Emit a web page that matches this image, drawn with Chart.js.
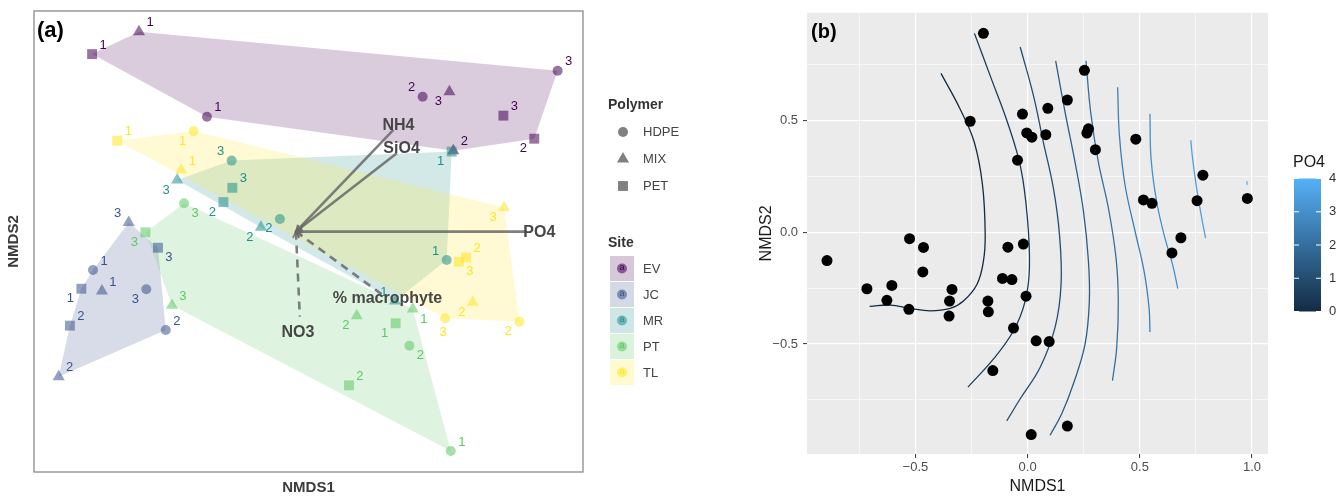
<!DOCTYPE html>
<html>
<head>
<meta charset="utf-8">
<script src="https://cdn.jsdelivr.net/npm/chart.js@4.4.0/dist/chart.umd.min.js"></script>
<style>
  html, body { margin: 0; padding: 0; background: #fff; }
  body { width: 1341px; height: 496px; position: relative; overflow: hidden; }
  #chartA { position: absolute; left: 0; top: 0; }
  #chartB { position: absolute; left: 740px; top: 0; }
</style>
</head>
<body>
<canvas id="chartA" width="720" height="496"></canvas>
<canvas id="chartB" width="601" height="496"></canvas>
<script>
// ---- panel (a): NMDS by site / polymer ----
const sites = ['EV', 'JC', 'MR', 'PT', 'TL'];
const polymers = ['HDPE', 'MIX', 'PET'];
// every site has the same 9 samples, in this order
const samplePolymer = ['HDPE', 'HDPE', 'HDPE', 'MIX', 'MIX', 'MIX', 'PET', 'PET', 'PET'];
const sampleRep = [1, 2, 3, 1, 2, 3, 1, 2, 3];

const evNMDS1 = [-0.444, 0.499, 1.089, -0.741, 0.633, 0.616, -0.946, 0.987, 0.852];
const evNMDS2 = [0.541, 0.628, 0.741, 0.910, 0.394, 0.650, 0.813, 0.446, 0.546];
const jcNMDS1 = [-0.942, -0.624, -0.709, -0.903, -1.092, -0.786, -0.993, -1.043, -0.658];
const jcNMDS2 = [-0.124, -0.384, -0.207, -0.215, -0.587, 0.082, -0.205, -0.365, -0.027];
const mrNMDS1 = [0.604, -0.125, -0.336, 0.378, -0.208, -0.574, 0.626, -0.372, -0.333];
const mrNMDS2 = [-0.080, 0.098, 0.351, -0.258, 0.062, 0.267, 0.390, 0.171, 0.233];
const ptNMDS1 = [0.622, 0.441, -0.544, 0.456, 0.211, -0.597, 0.381, 0.177, -0.713];
const ptNMDS2 = [-0.909, -0.452, 0.166, -0.293, -0.322, -0.277, -0.355, -0.624, 0.040];
const tlNMDS1 = [-0.502, 0.922, 0.597, -0.556, 0.718, 0.855, -0.836, 0.689, 0.657];
const tlNMDS2 = [0.479, -0.348, -0.333, 0.310, -0.264, 0.148, 0.437, -0.069, -0.088];

// environmental vectors (fitted arrows)
const envNames = ['NH4', 'SiO4', 'PO4', 'NO3', '% macrophyte'];
const envNMDS1 = [0.371, 0.386, 0.954, -0.038, 0.334];
const envNMDS2 = [0.484, 0.383, 0.043, -0.326, -0.239];
const envLabelNMDS1 = [0.393, 0.407, 1.009, -0.046, 0.345];
const envLabelNMDS2 = [0.502, 0.404, 0.040, -0.397, -0.249];
const envCentre = [-0.055, 0.043];

// ---- panel (b): ordisurf of PO4 ----
const nmds1B = [-0.197, -0.256, -0.023, -0.004, 0.019, 0.081, 0.090, -0.045, -0.894, -0.526,
  -0.464, -0.467, -0.716, -0.605, -0.627, -0.529, -0.337, -0.348, -0.350, -0.088,
  -0.019, -0.112, -0.070, -0.177, -0.175, -0.007, -0.063, 0.038, 0.096, -0.155,
  0.016, 0.253, 0.177, 0.271, 0.264, 0.302, 0.482, 0.781, 0.516, 0.554,
  0.755, 0.979, 0.683, 0.643, 0.177];
const nmds2B = [0.889, 0.496, 0.528, 0.444, 0.425, 0.436, 0.554, 0.322, -0.127, -0.029,
  -0.068, -0.178, -0.253, -0.238, -0.305, -0.345, -0.256, -0.308, -0.375, -0.067,
  -0.053, -0.207, -0.212, -0.308, -0.356, -0.286, -0.429, -0.486, -0.489, -0.619,
  -0.905, 0.724, 0.591, 0.462, 0.443, 0.369, 0.416, 0.255, 0.144, 0.129,
  0.141, 0.151, -0.025, -0.093, -0.867];

const contourLevels = [0, 0.5, 1, 1.5, 2, 2.5, 3, 3.5, 4];
const contourX = [
  [-0.386, -0.301, -0.238, -0.201, -0.189, -0.197, -0.226, -0.286, -0.345, -0.434, -0.523, -0.612, -0.704],
  [-0.237, -0.167, -0.085, -0.030, -0.001, 0.008, -0.011, -0.063, -0.152, -0.266],
  [-0.033, 0.026, 0.070, 0.115, 0.142, 0.149, 0.122, 0.056, -0.033, -0.093],
  [0.125, 0.167, 0.211, 0.249, 0.271, 0.275, 0.256, 0.204, 0.152, 0.100],
  [0.260, 0.281, 0.315, 0.360, 0.394, 0.404, 0.397, 0.378],
  [0.401, 0.409, 0.434, 0.479, 0.519, 0.541, 0.545],
  [0.545, 0.550, 0.575, 0.612, 0.646, 0.669],
  [0.727, 0.735, 0.753, 0.776, 0.793],
  [0.976, 0.979]
];
const contourY = [
  [0.710, 0.551, 0.403, 0.211, -0.012, -0.130, -0.234, -0.308, -0.341, -0.352, -0.341, -0.326, -0.332],
  [0.889, 0.700, 0.477, 0.284, 0.062, -0.160, -0.308, -0.441, -0.567, -0.693],
  [0.828, 0.611, 0.403, 0.196, -0.012, -0.234, -0.427, -0.604, -0.745, -0.844],
  [0.766, 0.536, 0.314, 0.092, -0.130, -0.308, -0.500, -0.678, -0.812, -0.908],
  [0.766, 0.536, 0.314, 0.107, -0.116, -0.308, -0.516, -0.664],
  [0.648, 0.433, 0.211, 0.003, -0.175, -0.338, -0.446],
  [0.529, 0.329, 0.136, -0.027, -0.145, -0.252],
  [0.411, 0.329, 0.196, 0.062, -0.027],
  [0.228, 0.211]
];
const xTicksB = [-0.75, -0.5, -0.25, 0, 0.25, 0.5, 0.75, 1];
const yTicksB = [-0.75, -0.5, -0.25, 0, 0.25, 0.5, 0.75];
const colorbarTicks = [0, 1, 2, 3, 4];

// ---- styles ----
const FONT = "'Liberation Sans', Arial, Helvetica, sans-serif";
Chart.defaults.font.family = FONT;
const siteColors = ['#440154', '#3B528B', '#21908C', '#5DC863', '#FDE725'];
const polymerStyle = { HDPE: 'circle', MIX: 'triangle', PET: 'rect' };
const polymerRadius = { HDPE: 5, MIX: 7, PET: 7 };
const envDashed = [false, false, false, true, true];
const labelSide = [
  ['ne', 'nw', 'ne', 'ne', 'ne', 'sw', 'ne', 'sw', 'ne'],
  ['ne', 'ne', 'sw', 'ne', 'ne', 'nw', 'sw', 'ne', 'se'],
  ['nw', 'sw', 'nw', 'nw', 'sw', 'sw', 'sw', 'sw', 'ne'],
  ['ne', 'se', 'se', 'se', 'sw', 'ne', 'sw', 'ne', 'sw'],
  ['sw', 'sw', 's', 'ne', 'sw', 'sw', 'ne', 'ne', 'se']
];
const sideOffset = { ne: [11, -9], nw: [-11, -9], se: [11, 10], sw: [-11, 10], s: [-2, 14] };
const lowColor = [0x13, 0x2B, 0x43], highColor = [0x56, 0xB1, 0xF7];

function rgba(hex, a) {
  const n = parseInt(hex.slice(1), 16);
  return `rgba(${n >> 16},${(n >> 8) & 255},${n & 255},${a})`;
}
function levelColor(v) {
  const t = v / 4;
  const c = lowColor.map((l, i) => Math.round(l + (highColor[i] - l) * t));
  return `rgb(${c[0]},${c[1]},${c[2]})`;
}
function convexHull(pts) {
  const p = pts.slice().sort((a, b) => a.x - b.x || a.y - b.y);
  const cross = (o, a, b) => (a.x - o.x) * (b.y - o.y) - (a.y - o.y) * (b.x - o.x);
  const lower = [], upper = [];
  p.forEach(q => { while (lower.length >= 2 && cross(lower[lower.length - 2], lower[lower.length - 1], q) <= 0) lower.pop(); lower.push(q); });
  p.slice().reverse().forEach(q => { while (upper.length >= 2 && cross(upper[upper.length - 2], upper[upper.length - 1], q) <= 0) upper.pop(); upper.push(q); });
  return lower.slice(0, -1).concat(upper.slice(0, -1));
}

const siteX = [evNMDS1, jcNMDS1, mrNMDS1, ptNMDS1, tlNMDS1];
const siteY = [evNMDS2, jcNMDS2, mrNMDS2, ptNMDS2, tlNMDS2];

const panelA = {
  id: 'panelA',
  beforeDatasetsDraw(chart) {
    const { ctx, scales: { x, y } } = chart;
    ctx.save();
    sites.forEach((s, i) => {
      const pts = siteX[i].map((v, j) => ({ x: x.getPixelForValue(v), y: y.getPixelForValue(siteY[i][j]) }));
      const hull = convexHull(pts);
      ctx.beginPath();
      hull.forEach((p, k) => k ? ctx.lineTo(p.x, p.y) : ctx.moveTo(p.x, p.y));
      ctx.closePath();
      ctx.fillStyle = rgba(siteColors[i], 0.2);
      ctx.fill();
    });
    ctx.restore();
  },
  afterDatasetsDraw(chart) {
    const { ctx, scales: { x, y } } = chart;
    ctx.save();
    const ox = x.getPixelForValue(envCentre[0]), oy = y.getPixelForValue(envCentre[1]);
    // arrows
    envNames.forEach((n, i) => {
      const ex = x.getPixelForValue(envNMDS1[i]), ey = y.getPixelForValue(envNMDS2[i]);
      ctx.strokeStyle = 'rgba(105,105,105,0.85)';
      ctx.lineWidth = 2.6;
      ctx.setLineDash(envDashed[i] ? [8, 6] : []);
      ctx.beginPath(); ctx.moveTo(ox, oy); ctx.lineTo(ex, ey); ctx.stroke();
      ctx.setLineDash([]);
      const ang = Math.atan2(oy - ey, ox - ex);
      ctx.lineWidth = 1.6;
      ctx.beginPath();
      ctx.moveTo(ox - 7 * Math.cos(ang - 0.5), oy - 7 * Math.sin(ang - 0.5));
      ctx.lineTo(ox, oy);
      ctx.lineTo(ox - 7 * Math.cos(ang + 0.5), oy - 7 * Math.sin(ang + 0.5));
      ctx.stroke();
    });
    // point labels
    ctx.font = '13px ' + FONT;
    ctx.textAlign = 'center';
    ctx.textBaseline = 'middle';
    sites.forEach((s, i) => {
      ctx.fillStyle = siteColors[i];
      siteX[i].forEach((v, j) => {
        const off = sideOffset[labelSide[i][j]];
        ctx.fillText(String(sampleRep[j]), x.getPixelForValue(v) + off[0], y.getPixelForValue(siteY[i][j]) + off[1]);
      });
    });
    // arrow labels
    ctx.font = 'bold 16px ' + FONT;
    ctx.fillStyle = '#474747';
    envNames.forEach((n, i) => {
      ctx.fillText(n, x.getPixelForValue(envLabelNMDS1[i]), y.getPixelForValue(envLabelNMDS2[i]));
    });
    ctx.restore();
  },
  afterDraw(chart) {
    const { ctx, chartArea: a } = chart;
    ctx.save();
    ctx.strokeStyle = '#8a8a8a';
    ctx.lineWidth = 1.3;
    ctx.strokeRect(a.left, a.top, a.right - a.left, a.bottom - a.top);
    ctx.fillStyle = '#000';
    ctx.font = 'bold 22px ' + FONT;
    ctx.textBaseline = 'middle';
    ctx.fillText('(a)', a.left + 3, a.top + 20);
    // axis titles
    ctx.fillStyle = '#3a3a3a';
    ctx.font = 'bold 15px ' + FONT;
    ctx.textAlign = 'center';
    ctx.fillText('NMDS1', (a.left + a.right) / 2, 488);
    ctx.save();
    ctx.translate(14, (a.top + a.bottom) / 2);
    ctx.rotate(-Math.PI / 2);
    ctx.fillText('NMDS2', 0, 0);
    ctx.restore();
    // legend: polymer
    ctx.textAlign = 'left';
    ctx.fillStyle = '#333';
    ctx.font = 'bold 14px ' + FONT;
    ctx.fillText('Polymer', 608, 105);
    polymers.forEach((p, i) => {
      const yy = 132 + i * 27;
      ctx.fillStyle = '#808080';
      Chart.helpers.drawPoint(ctx, { pointStyle: polymerStyle[p], radius: polymerRadius[p], borderWidth: 0, rotation: 0 }, 623, yy);
      ctx.fillStyle = '#444';
      ctx.font = '13px ' + FONT;
      ctx.fillText(p, 643, yy);
    });
    // legend: site
    ctx.fillStyle = '#333';
    ctx.font = 'bold 14px ' + FONT;
    ctx.fillText('Site', 608, 243);
    sites.forEach((s, i) => {
      const y0 = 256 + i * 26;
      ctx.fillStyle = rgba(siteColors[i], 0.22);
      ctx.fillRect(610, y0, 24, 25);
      ctx.fillStyle = rgba(siteColors[i], 0.55);
      ctx.beginPath(); ctx.arc(622, y0 + 12.5, 5, 0, Math.PI * 2); ctx.fill();
      ctx.fillStyle = siteColors[i];
      ctx.font = '9px ' + FONT;
      ctx.textAlign = 'center';
      ctx.fillText('a', 622, y0 + 12);
      ctx.textAlign = 'left';
      ctx.fillStyle = '#444';
      ctx.font = '13px ' + FONT;
      ctx.fillText(s, 643, y0 + 13);
    });
    ctx.restore();
  }
};

new Chart(document.getElementById('chartA'), {
  type: 'scatter',
  data: {
    datasets: sites.map((s, i) => ({
      label: s,
      data: siteX[i].map((v, j) => ({ x: v, y: siteY[i][j] })),
      pointStyle: ctx => polymerStyle[samplePolymer[ctx.dataIndex]],
      pointRadius: ctx => polymerRadius[samplePolymer[ctx.dataIndex]],
      backgroundColor: rgba(siteColors[i], 0.55),
      borderWidth: 0,
      order: sites.length - i
    }))
  },
  options: {
    responsive: false,
    devicePixelRatio: 1,
    animation: false,
    layout: { padding: { left: 34, top: 11, right: 137, bottom: 24 } },
    plugins: { legend: { display: false }, tooltip: { enabled: false } },
    scales: {
      x: { type: 'linear', min: -1.2, max: 1.2, display: false },
      y: { type: 'linear', min: -1, max: 1, display: false }
    }
  },
  plugins: [panelA]
});

// ---- panel (b) ----
const isMajor = v => Math.abs(v * 2 - Math.round(v * 2)) < 1e-6;
const fmtTick = v => isMajor(v) ? (v < 0 ? '\u2212' : '') + Math.abs(v).toFixed(1) : '';
const gridB = {
  color: '#ffffff',
  lineWidth: ctx => ctx.tick && isMajor(ctx.tick.value) ? 1.2 : 0.6,
  tickColor: ctx => ctx.tick && isMajor(ctx.tick.value) ? '#333333' : 'rgba(0,0,0,0)',
  tickLength: 4,
  tickWidth: 1
};

const panelB = {
  id: 'panelB',
  beforeDraw(chart) {
    const { ctx, chartArea: a } = chart;
    ctx.save();
    ctx.fillStyle = '#EBEBEB';
    ctx.fillRect(a.left, a.top, a.right - a.left, a.bottom - a.top);
    ctx.restore();
  },
  afterDraw(chart) {
    const { ctx, chartArea: a } = chart;
    ctx.save();
    ctx.fillStyle = '#000';
    ctx.font = 'bold 20px ' + FONT;
    ctx.textBaseline = 'middle';
    ctx.fillText('(b)', a.left + 4, a.top + 20);
    // colour bar
    const bx = 554, bw = 27, bt = 178.5, bb = 311.5;
    const g = ctx.createLinearGradient(0, bb, 0, bt);
    for (let k = 0; k <= 8; k++) g.addColorStop(k / 8, levelColor(k / 2));
    ctx.fillStyle = g;
    ctx.fillRect(bx, bt, bw, bb - bt);
    ctx.strokeStyle = '#ffffff';
    ctx.lineWidth = 1;
    ctx.font = '13px ' + FONT;
    colorbarTicks.forEach(v => {
      const yy = bb - (bb - bt) * v / 4;
      ctx.beginPath();
      ctx.moveTo(bx, yy); ctx.lineTo(bx + 5, yy);
      ctx.moveTo(bx + bw - 5, yy); ctx.lineTo(bx + bw, yy);
      ctx.stroke();
      ctx.fillStyle = '#333';
      ctx.fillText(String(v), bx + 35, yy);
    });
    ctx.fillStyle = '#1a1a1a';
    ctx.font = '16px ' + FONT;
    ctx.fillText('PO4', bx - 1, 163);
    ctx.restore();
  }
};

new Chart(document.getElementById('chartB'), {
  type: 'scatter',
  data: {
    datasets: contourLevels.map((lv, i) => ({
      label: 'PO4 ' + lv,
      data: contourX[i].map((v, j) => ({ x: v, y: contourY[i][j] })),
      showLine: true,
      pointRadius: 0,
      borderColor: levelColor(lv),
      borderWidth: 1.3,
      tension: 0.4,
      fill: false,
      order: 2
    })).concat([{
      label: 'sites',
      data: nmds1B.map((v, j) => ({ x: v, y: nmds2B[j] })),
      pointRadius: 5.5,
      backgroundColor: '#000',
      borderWidth: 0,
      order: 1
    }])
  },
  options: {
    responsive: false,
    devicePixelRatio: 1,
    animation: false,
    layout: { padding: { left: 0, top: 10, right: 73, bottom: 0 } },
    plugins: { legend: { display: false }, tooltip: { enabled: false } },
    scales: {
      x: {
        type: 'linear', min: -0.983, max: 1.071,
        afterBuildTicks: s => { s.ticks = xTicksB.map(v => ({ value: v })); },
        afterFit: s => { s.height = 42; },
        ticks: { callback: fmtTick, autoSkip: false, maxRotation: 0, padding: 2, color: '#4D4D4D', font: { size: 13 } },
        grid: gridB,
        border: { display: false },
        title: { display: true, text: 'NMDS1', color: '#1a1a1a', font: { size: 16 }, padding: { top: 0, bottom: 0 } }
      },
      y: {
        type: 'linear', min: -0.992, max: 0.981,
        afterBuildTicks: s => { s.ticks = yTicksB.map(v => ({ value: v })); },
        afterFit: s => { s.width = 67; },
        ticks: { callback: fmtTick, autoSkip: false, padding: 5, color: '#4D4D4D', font: { size: 13 } },
        grid: gridB,
        border: { display: false },
        title: { display: true, text: 'NMDS2', color: '#1a1a1a', font: { size: 16 }, padding: { top: 17, bottom: 0 } }
      }
    }
  },
  plugins: [panelB]
});
</script>
</body>
</html>
